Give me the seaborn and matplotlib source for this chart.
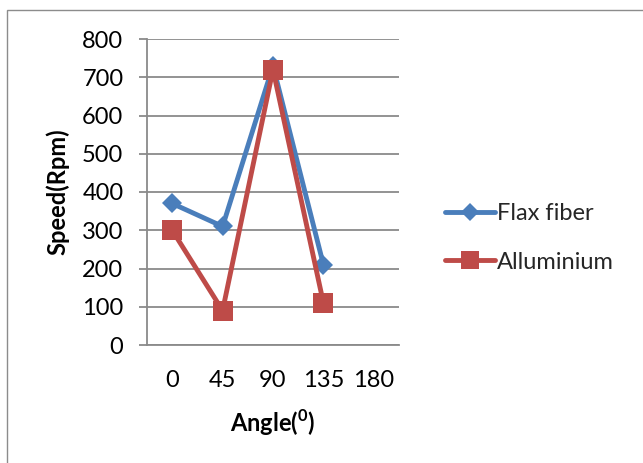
import numpy as np
import pandas as pd
import matplotlib
matplotlib.use("Agg")
import matplotlib.pyplot as plt
import seaborn as sns
from matplotlib.lines import Line2D
from matplotlib.patches import Rectangle

# Rotation speed per blade angle for the two materials
angles = ["0", "45", "90", "135", "180"]
flax_fiber = [370, 310, 730, 210, np.nan]
alluminium = [300, 90, 720, 110, np.nan]
series_names = ["Flax fiber", "Alluminium"]
y_ticks = [0, 100, 200, 300, 400, 500, 600, 700, 800]

colors = ["#4A7EBB", "#BE4B48"]
markers = ["D", "s"]
marker_sizes = [10.5, 14]

sns.set_theme(style="white")
plt.rcParams["font.family"] = ["Lato", "DejaVu Sans"]
plt.rcParams["mathtext.fontset"] = "custom"
plt.rcParams["mathtext.rm"] = "Lato"
plt.rcParams["mathtext.bf"] = "Lato:bold"

df = pd.DataFrame({
    "Angle": angles * 2,
    "Speed": flax_fiber + alluminium,
    "Material": [series_names[0]] * len(angles) + [series_names[1]] * len(angles),
})

fig = plt.figure(figsize=(6.43, 4.63), dpi=100)
ax = fig.add_axes([147 / 643, 1 - 345 / 463, (399 - 147) / 643, (345 - 39) / 463])

sns.pointplot(
    data=df, x="Angle", y="Speed", hue="Material",
    order=angles, hue_order=series_names,
    palette=colors, markers=markers, linestyles=["-", "-"],
    errorbar=None, legend=False, ax=ax, linewidth=3.5,
)
for line, ms, c in zip(ax.lines, marker_sizes, colors):
    line.set_markersize(ms)
    line.set_markeredgewidth(0)
    line.set_markerfacecolor(c)
    line.set_solid_joinstyle("round")
    line.set_solid_capstyle("round")

grid_c = "#8a8a8a"
ax.set_xlim(-0.5, len(angles) - 0.5)
ax.set_ylim(0, 800)
ax.set_yticks(y_ticks)
ax.yaxis.grid(True, color=grid_c, linewidth=1.3)
ax.set_axisbelow(True)
for side in ["top", "right"]:
    ax.spines[side].set_visible(False)
for side in ["left", "bottom"]:
    ax.spines[side].set_color(grid_c)
    ax.spines[side].set_linewidth(1.3)
ax.tick_params(axis="y", left=True, length=6, width=1.3, color=grid_c,
               pad=11, labelsize=17, labelcolor="black")
ax.tick_params(axis="x", bottom=False, length=0, pad=18, labelsize=17,
               labelcolor="black")
ax.set_xlabel(r"Angle($^{\mathbf{0}}$)", fontsize=17, fontweight="bold",
              labelpad=12, color="black")
ax.set_ylabel("Speed(Rpm)", fontsize=17, fontweight="bold", labelpad=9,
              color="black")

handles = [
    Line2D([0], [0], color=c, lw=3.5, marker=m, markersize=s * 0.9,
           markeredgewidth=0, solid_capstyle="round")
    for c, m, s in zip(colors, markers, marker_sizes)
]
fig.legend(handles, series_names, loc="center left",
           bbox_to_anchor=(436 / 643, 1 - 238 / 463), frameon=False,
           fontsize=17, handlelength=2.1, handletextpad=0.1,
           labelspacing=1.15, borderaxespad=0)

# Outer chart frame
fig.add_artist(Rectangle((7 / 643, -0.05), 1.0, 1 - 10 / 463 + 0.05,
                         transform=fig.transFigure, fill=False,
                         edgecolor="#8c8c8c", linewidth=1.0))

fig.savefig("out.png", dpi=100)
